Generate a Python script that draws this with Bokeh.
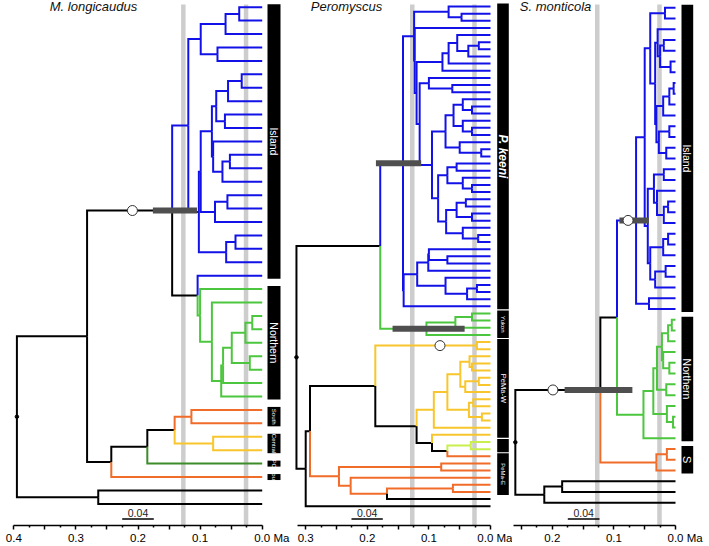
import math
from bokeh.plotting import figure
from bokeh.layouts import row
from bokeh.models import Range1d, FixedTicker, CustomJSTickFormatter, ColumnDataSource
from bokeh.embed import file_html
from bokeh.resources import INLINE
from bokeh.core.properties import value

# ------------------------------------------------------------------ data
# Trees in a Newick-like form: internal label = [name=]age_in_Ma[/colour], tips "t[/colour]".
COLORS = {"K": "#000000", "B": "#1212e8", "G": "#4cc63e", "O": "#f06c28",
          "Y": "#f8c62c", "D": "#3c8c2a", "L": "#c8ef4c"}

# --- M. longicaudus
P1_ISLAND_A = "(((t,t)0.037,t)0.059,(t,t)0.072)0.099"
P1_ISLAND_B = "((((((t,t)0.033,t)0.055,(t,t)0.060)0.074,(t,((t,t)0.052,t)0.064)0.079)0.081,((t,t)0.056,t)0.076)0.099,((t,t)0.043,t)0.058)0.102"
P1_NORTHERN = "(t,(t,(((((t,t)0.016,t)0.027,(t,t)0.020)0.049,t)0.063,t)0.066)0.081)0.100/G"
P1_SOUTH = "((((t,t)0.114/O,(t,t)0.079/Y)0.141,t/D)0.185,t/O)0.243"
P1_OUT = "(t,t)0.264"
TREE_1 = ("(((" + "(" + P1_ISLAND_A + "," + P1_ISLAND_B + ")0.119/B" + ",(t/B," + P1_NORTHERN
          + ")0.104/K)U=0.145," + P1_SOUTH + ")0.282," + P1_OUT + ")0.395")

# --- Peromyscus
P2_N1 = "(t,(t,t)0.047)0.068"
P2_M1 = "(((t,((t,t)0.019,t)0.036)0.054,t)0.068,t)0.078"
P2_M2A = "(t,(t,t)0.062)0.100"
P2_M3 = "(((t,(t,t)0.030)0.045,(t,(t,t)0.030)0.045)0.060,(t,(t,t)0.015)0.050)0.073"
P2_M4 = "(((t,t)0.055,(t,(t,t)0.030)0.045)0.070,(((t,t)0.040,(t,t)0.030)0.055,(t,(t,t)0.020)0.045)0.072)0.085"
P2_UP = "(" + P2_N1 + ",(t,(" + P2_M1 + ",(" + P2_M2A + ",(" + P2_M3 + "," + P2_M4 + ")0.095)0.115)0.120)0.123)0.124"
P2_L1 = "(((t,(t,t)0.070)0.100,t)0.101,(t,((t,t)0.022,t)0.038)0.073)0.119"
P2_PK = "(" + P2_UP + ",(" + P2_L1 + ",t)0.141)PK=0.142/B"
P2_YUKON = "(((t,t)0.030,t)0.057,t)Yu=0.104/G"
P2_Q = "((((t,(t,t)0.030)0.034,((t,t)0.019,t)0.041)0.049,((t,t)0.028,(t,t)0.014)0.035)0.070,t)0.092/Y"
P2_C = "(t/Y,((t,t)0.032/L,t/O)0.070)0.095"
P2_W = "((t,t)A=0.022/Y,(" + P2_Q + "," + P2_C + ")0.120)0.187"
P2_E = "((t,t)0.080,(t,((t,t)0.061,t/K)0.168)0.227)0.246/O"
TREE_2 = "((" + P2_PK + "," + P2_YUKON + ")0.179,((" + P2_W + "," + P2_E + ")0.293,t)0.300)0.315"

# --- S. monticola
P3_IA = "((t,t)0.017,((t,((t,t)0.019,(t,t)0.008)0.025)0.029,((((t,t)0.003,t)0.010,t)0.020,((t,t)0.010,(t,t)0.015)0.027)0.031)0.033)0.041"
P3_IB = "(((t,t)0.019,(t,((t,t)0.012,t)0.019)0.030)0.035,(((t,t)0.012,t)0.020,((t,t)0.016,t)0.033)0.041)0.045"
P3_ISLAND = "((" + P3_IA + "," + P3_IB + ")0.050,(t,t)0.043)I=0.064/B"
P3_NORTHERN = "((((((t,t)0.006,t)0.012,(t,(t,t)0.010)0.020)0.022,(t,t)0.015)0.030,(t,(t,t)0.004)0.014)0.036,t)0.052/G"
P3_S = "((t,t)0.014,t)0.031/O"
P3_OUT = "((t,t)0.184,t)0.213"
TREE_3 = "(((" + P3_ISLAND + "," + P3_NORTHERN + ")0.095," + P3_S + ")Q=0.122," + P3_OUT + ")0.260"

TITLES = ["M. longicaudus", "Peromyscus", "S. monticola"]
# clade labels: (text, first tip, last tip)
CLADES_1 = [("Island", 0, 20), ("Northern", 21, 29), ("South", 30, 31), ("Central", 32, 33),
            ("PC", 34, 34), ("South", 35, 35)]
CLADES_2 = [("P. keeni", 0, 42), ("Yukon", 43, 46), ("PeMa-W", 47, 60), ("", 61, 62), ("PeMa-E", 63, 68)]
CLADES_3 = [("Island", 0, 28), ("Northern", 29, 40), ("S", 41, 43)]
# calibration circles (node, age on its stem) and 95% HPD bars (node, older, younger)
CIRCLES_1 = [("U", 0.209)]
CIRCLES_2 = [("A", 0.082)]
CIRCLES_3 = [("I", 0.077), ("Q", 0.199)]
HPD_1 = [("U", 0.176, 0.105)]
HPD_2 = [("PK", 0.186, 0.1125), ("Yu", 0.159, 0.042)]
HPD_3 = [("I", 0.091, 0.043), ("Q", 0.180, 0.070)]
BANDS = [0.127, 0.026]                      # grey time bands (Ma)
MAJOR_1 = [0.0, 0.05, 0.1, 0.15, 0.2, 0.25, 0.3, 0.35, 0.4]
MAJOR_2 = [0.0, 0.05, 0.1, 0.15, 0.2, 0.25, 0.3]
MAJOR_3 = [0.0, 0.05, 0.1, 0.15, 0.2, 0.25]
AXIS_MAX = [0.4, 0.314, 0.263]
SCALE_TEXT = "0.04"
EXPECTED_TIPS = [38, 71, 47]

# ------------------------------------------------------------------ helpers
def parse_tree(s):
    pos = [0]

    def node():
        kids = []
        if s[pos[0]] == "(":
            pos[0] += 1
            kids.append(node())
            while s[pos[0]] == ",":
                pos[0] += 1
                kids.append(node())
            assert s[pos[0]] == ")", s[pos[0]:pos[0] + 30]
            pos[0] += 1
        st = pos[0]
        while pos[0] < len(s) and s[pos[0]] not in "(),":
            pos[0] += 1
        lab = s[st:pos[0]]
        col = None
        if "/" in lab:
            lab, col = lab.split("/")
        name = None
        if "=" in lab:
            name, lab = lab.split("=")
        age = 0.0 if lab in ("", "t") else float(lab)
        return {"name": name, "age": age, "col": col, "kids": kids}

    root = node()
    assert pos[0] == len(s), "trailing text"
    return root


def layout_tree(root):
    count = [0]
    named = {}

    def place(n, col):
        n["c"] = COLORS[n["col"]] if n["col"] else col
        if n["name"]:
            named[n["name"]] = n
        if not n["kids"]:
            n["y"] = count[0]
            count[0] += 1
        else:
            for k in n["kids"]:
                place(k, n["c"])
            n["y"] = (n["kids"][0]["y"] + n["kids"][-1]["y"]) / 2.0

    place(root, COLORS["K"])
    xs, ys, cs = [], [], []

    def draw(n):
        for k in n["kids"]:
            xs.append([n["age"], n["age"], k["age"]])
            ys.append([n["y"], k["y"], k["y"]])
            cs.append(k["c"])
            draw(k)

    draw(root)
    return named, dict(xs=xs, ys=ys, c=cs), count[0]


FMT = """
const r = Math.round(tick * 1000) / 1000;
if (Math.abs(r * 10 - Math.round(r * 10)) > 1e-6) { return ""; }
if (Math.abs(r) < 1e-9) { return "\u2007\u2007\u20070.0 Ma"; }
return r.toFixed(1);
"""

# ------------------------------------------------------------------ layout (reference pixel frame)
WIDTHS = [290, 222, 197]
SPANS = [(0.0, 290.0), (290.0, 512.0), (512.0, 709.0)]
ZERO_X = [261.7, 490.0, 675.0]
PX_PER_MA = [621.0, 616.0, 616.0]
TIP0 = [6.7, 6.0, 7.3]
TIP_STEP = [13.45, 7.153, 10.78]
FRAME_BOTTOM = 526.0
BAR_X = [(267.0, 280.0), (496.7, 508.3), (681.0, 692.7)]
TITLE_X = [93.0, 346.0, 555.0]
SCALE_X = [(121.7, 153.3), (351.0, 382.3), (567.3, 599.0)]

trees = [TREE_1, TREE_2, TREE_3]
clades = [CLADES_1, CLADES_2, CLADES_3]
circles = [CIRCLES_1, CIRCLES_2, CIRCLES_3]
hpds = [HPD_1, HPD_2, HPD_3]
majors = [MAJOR_1, MAJOR_2, MAJOR_3]

FONT = value("Liberation Sans")
figs = []
for k in range(3):
    Z, S, T0, D = ZERO_X[k], PX_PER_MA[k], TIP0[k], TIP_STEP[k]
    xa = lambda px, Z=Z, S=S: (Z - px) / S
    yi = lambda py, T0=T0, D=D: (py - T0) / D
    L, R = SPANS[k]
    p = figure(width=WIDTHS[k], height=546,
               x_range=Range1d(xa(L), xa(R)), y_range=Range1d(yi(FRAME_BOTTOM), yi(0.0)),
               output_backend="svg", toolbar_location=None, y_axis_location=None,
               min_border_left=0, min_border_right=0, min_border_top=0, min_border_bottom=20)
    p.grid.visible = False
    p.outline_line_color = None
    p.background_fill_color = "white"
    p.border_fill_color = "white"

    root = parse_tree(trees[k])
    named, segs, ntips = layout_tree(root)
    assert ntips == EXPECTED_TIPS[k], (k, ntips)

    # grey time bands
    for b in BANDS:
        p.segment(x0=[b], y0=[yi(4.0)], x1=[b], y1=[yi(540.0)], line_color="#cdcdcd", line_width=4.5)

    # branches
    p.multi_line(xs="xs", ys="ys", line_color="c", line_width=2, line_join="miter",
                 source=ColumnDataSource(segs))

    # HPD bars
    for name, a0, a1 in hpds[k]:
        yv = named[name]["y"]
        p.segment(x0=[a0], y0=[yv], x1=[a1], y1=[yv], line_color="#4f4f4f", line_width=6)

    # root stub
    p.scatter(x=[root["age"]], y=[root["y"]], size=3.5, color="black")

    # calibration circles
    for name, a in circles[k]:
        p.scatter(x=[a], y=[named[name]["y"]], size=10, fill_color="white",
                  line_color="#333333", line_width=1)

    # clade label bars
    pad = 3.0 / D
    bx0, bx1 = BAR_X[k]
    for txt, f, l in clades[k]:
        top, bot = f - pad, l + pad
        p.quad(left=[xa(bx0)], right=[xa(bx1)], top=[top], bottom=[bot], fill_color="black",
               line_color=None)
        if not txt:
            continue
        if txt == "P. keeni":
            size, style = "12px", "bold italic"
        elif txt in ("Island", "Northern"):
            size, style = "10.5px", "normal"
        elif txt == "S":
            size, style = "11px", "normal"
        elif txt == "PeMa-W":
            size, style = "7.5px", "normal"
        else:
            size, style = "6px", "normal"
        p.text(x=[xa((bx0 + bx1) / 2)], y=[(top + bot) / 2], text=[txt], angle=-math.pi / 2,
               text_color="white", text_align="center", text_baseline="middle",
               text_font=FONT, text_font_size=size, text_font_style=style)

    # title
    p.text(x=[xa(TITLE_X[k])], y=[yi(6.0)], text=[TITLES[k]], text_align="center",
           text_baseline="middle", text_font=FONT, text_font_size="13px",
           text_font_style="italic", text_color="#111111")

    # substitution scale bar
    s0, s1 = SCALE_X[k]
    p.segment(x0=[xa(s0)], y0=[yi(519.5)], x1=[xa(s1)], y1=[yi(519.5)], line_color="black",
              line_width=1.5)
    p.text(x=[xa((s0 + s1) / 2)], y=[yi(513.0)], text=[SCALE_TEXT], text_align="center",
           text_baseline="middle", text_font=FONT, text_font_size="10.5px", text_color="#222222")

    # time axis
    ax = p.xaxis[0]
    mj = majors[k]
    ax.bounds = (0.0, AXIS_MAX[k])
    ax.ticker = FixedTicker(ticks=mj, minor_ticks=[(a + b) / 2 for a, b in zip(mj[:-1], mj[1:])])
    ax.formatter = CustomJSTickFormatter(code=FMT)
    ax.major_label_text_font = "Liberation Sans"
    ax.major_label_text_font_size = "11.5px"
    ax.major_label_text_color = "black"
    ax.major_label_standoff = 2
    ax.axis_line_width = 1.5
    ax.major_tick_line_width = 1.5
    ax.minor_tick_line_width = 1.5
    ax.major_tick_in = 0
    ax.major_tick_out = 4
    ax.minor_tick_in = 0
    ax.minor_tick_out = 2
    figs.append(p)

layout = row(*figs)
open("out.html", "w").write(file_html(layout, INLINE))
